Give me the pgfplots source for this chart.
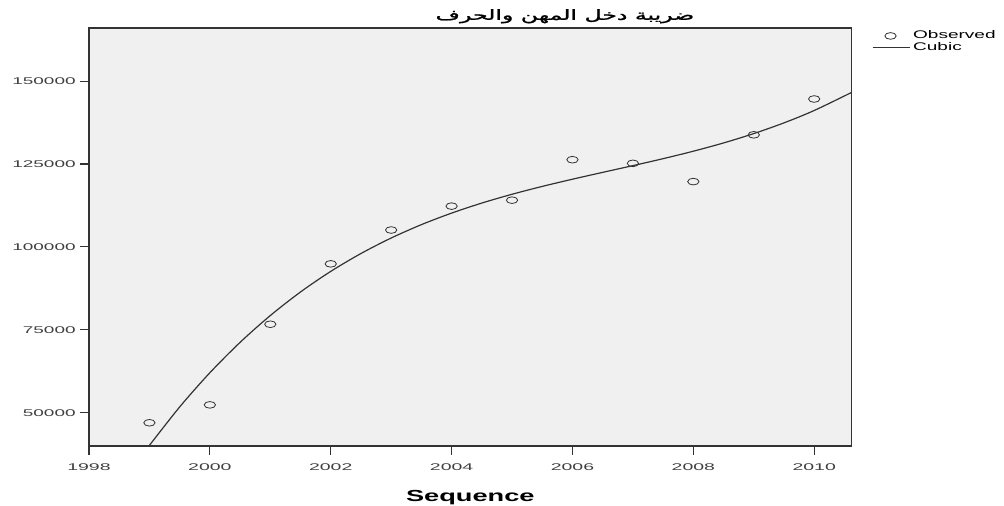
\documentclass[border=0pt]{standalone}
\usepackage{pgfplots}
\pgfplotsset{compat=1.18}
\usepackage{fontspec}
\setmainfont{Liberation Sans}
\newfontfamily\arabicfont[Script=Arabic, FakeBold=1.2]{DejaVu Sans}
\TeXXeTstate=1
\definecolor{plotbg}{HTML}{F0F0F0}
\definecolor{inkgray}{HTML}{333333}

\pgfplotsset{
  obslegend/.style={legend image code/.code={\draw[##1] plot coordinates {(13.5pt,0pt)};}},
  fitlegend/.style={legend image code/.code={\draw[##1] (0pt,0pt) -- (28pt,0pt);}},
}

\pgfplotstableread{
year value
1999 47000
2000 52400
2001 76700
2002 94900
2003 105100
2004 112300
2005 114100
2006 126300
2007 125200
2008 119700
2009 133800
2010 144600
}\observed

% cubic fit line
\pgfplotstableread{
year value
1998.99 39950
1999.5 51760
2000 62080
2000.5 71240
2001 79320
2001.5 86430
2002 92630
2002.5 98020
2003 102690
2003.5 106720
2004 110200
2004.5 113230
2005 115880
2005.5 118250
2006 120420
2006.5 122480
2007 124510
2007.5 126610
2008 128860
2008.5 131350
2009 134170
2009.5 137400
2010 141130
2010.62 146590
}\cubic

\begin{document}
\begin{tikzpicture}
\path[use as bounding box] (-66.75pt,-45pt) rectangle (686.25pt,334.5pt);
\begin{axis}[
  scale only axis, width=572pt, height=313.5pt,
  xmin=1998, xmax=2010.62, ymin=40000, ymax=166000,
  xtick={1998,2000,...,2010}, ytick={50000,75000,...,150000},
  axis background/.style={fill=plotbg},
  axis line style={inkgray, line width=0.8pt},
  tick align=outside, xtick pos=bottom, ytick pos=left,
  major tick length=6.5pt,
  tick style={inkgray, line width=0.8pt},
  scaled y ticks=false,
  /pgf/number format/fixed,
  /pgf/number format/precision=0,
  /pgf/number format/1000 sep={},
  /pgf/number format/assume math mode=true,
  tick label style={font=\fontsize{7.3}{8}\selectfont, text=black!75},
  xticklabel style={yshift=-3pt},
  xticklabel={\scalebox{2.0}[1]{\pgfmathprintnumber{\tick}}},
  yticklabel={\scalebox{1.95}[1]{\pgfmathprintnumber{\tick}}},
  xlabel={\scalebox{1.7}[1]{\bfseries Sequence}},
  xlabel style={font=\fontsize{12}{14}\selectfont, yshift=-8pt},
  title={\resizebox{194pt}{\height}{\arabicfont\fontsize{10.5}{12}\selectfont\beginR ضريبة دخل المهن والحرف\endR}},
  title style={at={(0.624,1)}, anchor=south, yshift=-6pt},
  legend style={at={(rel axis cs:1,1)}, anchor=north west, xshift=12pt, yshift=2pt,
    draw=none, fill=none, font=\fontsize{8.3}{8.5}\selectfont,
    row sep=-3pt, cells={anchor=west}},
]
\addplot[only marks, mark=o, mark size=2.5pt,
  mark options={xscale=1.7, line width=0.6pt, draw=black!80}, obslegend]
  table[x=year, y=value] {\observed};
\addlegendentry{\scalebox{1.72}[1]{Observed}}
\addplot[inkgray, line width=0.9pt, smooth, no marks, fitlegend]
  table[x=year, y=value] {\cubic};
\addlegendentry{\scalebox{1.72}[1]{Cubic}}
\end{axis}
\end{tikzpicture}
\end{document}
